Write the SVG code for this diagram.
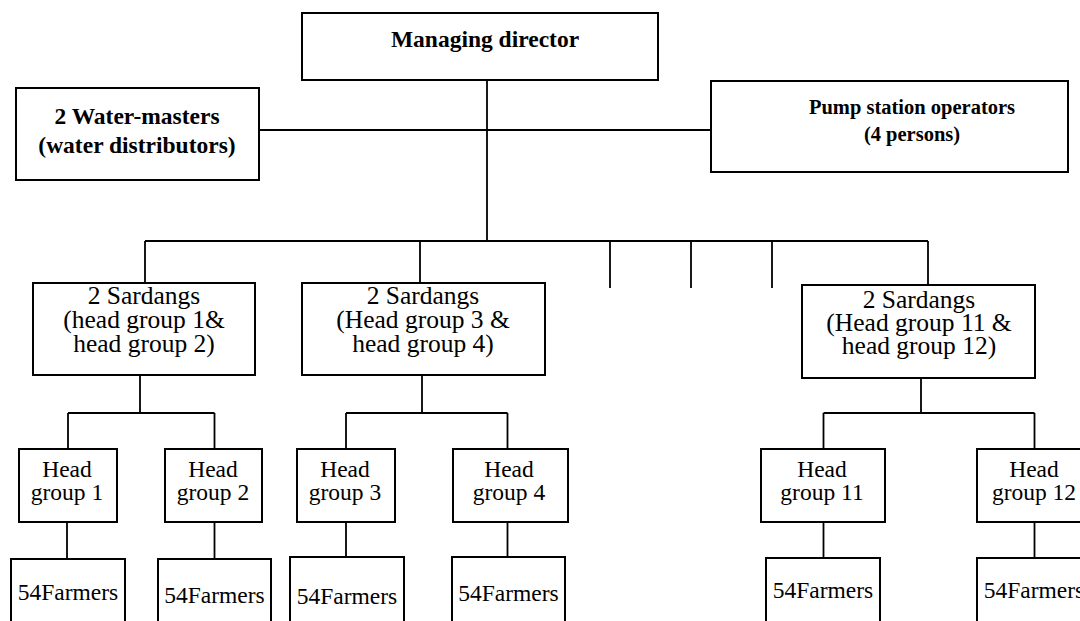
<svg xmlns="http://www.w3.org/2000/svg" width="1080" height="621" viewBox="0 0 1080 621">
<style>
.box{fill:#fff;stroke:#000;stroke-width:2}
.ln{fill:none;stroke:#000;stroke-width:1.8}
.b{font-family:"Liberation Serif","Times New Roman",serif;font-weight:bold;font-size:23.5px;fill:#000;text-anchor:middle}
.bp{font-family:"Liberation Serif","Times New Roman",serif;font-weight:bold;font-size:20.5px;fill:#000;text-anchor:middle}
.s{font-family:"Liberation Serif","Times New Roman",serif;font-size:25.5px;fill:#000;text-anchor:middle}
.h{font-family:"Liberation Serif","Times New Roman",serif;font-size:23.5px;fill:#000;text-anchor:middle}
</style>
<rect width="1080" height="621" fill="#fff"/>
<g id="connectors">
<path class="ln" d="M487,80 V241 M259,130 H711 M145,241 H928 M145,241 V283 M420,241 V283 M610,241 V288 M691,241 V288 M772,241 V288 M928,241 V285"/>
<path class="ln" d="M140,375 V413 M68,413 H214.5 M68,413 V449 M214.5,413 V449 M67,522 V559 M214.5,522 V559"/>
<path class="ln" d="M422,375 V413 M346,413 H507.5 M346,413 V449 M507.5,413 V449 M346,522 V557 M507.5,522 V557"/>
<path class="ln" d="M921,378 V413 M823.5,413 H1034.5 M823.5,413 V449 M1034.5,413 V449 M823.5,522 V558 M1034.5,522 V558"/>
</g>
<g id="managing-director"><rect class="box" x="302" y="13" width="356" height="67"/><text class="b" x="485" y="47">Managing director</text></g>
<g id="water-masters"><rect class="box" x="16" y="88" width="243" height="92"/><text class="b" x="137" y="124">2 Water-masters</text><text class="b" x="137" y="153">(water distributors)</text></g>
<g id="pump-operators"><rect class="box" x="711" y="81" width="357" height="91"/><text class="bp" x="912" y="114">Pump station operators</text><text class="bp" x="912" y="141">(4 persons)</text></g>
<g id="sardangs-1-2"><rect class="box" x="33" y="283" width="222" height="92"/><text class="s" x="144" y="304">2 Sardangs</text><text class="s" x="144" y="328">(head group 1&amp;</text><text class="s" x="144" y="352">head group 2)</text></g>
<g id="sardangs-3-4"><rect class="box" x="302" y="283" width="243" height="92"/><text class="s" x="423" y="304">2 Sardangs</text><text class="s" x="423" y="328">(Head group 3 &amp;</text><text class="s" x="423" y="352">head group 4)</text></g>
<g id="sardangs-11-12"><rect class="box" x="802" y="285" width="233" height="93"/><text class="s" x="919" y="308">2 Sardangs</text><text class="s" x="919" y="331">(Head group 11 &amp;</text><text class="s" x="919" y="354">head group 12)</text></g>
<g id="head-group-1"><rect class="box" x="19" y="449" width="98" height="73"/><text class="h" x="67" y="477">Head</text><text class="h" x="67" y="500">group 1</text></g>
<g id="head-group-2"><rect class="box" x="165" y="449" width="97" height="73"/><text class="h" x="213" y="477">Head</text><text class="h" x="213" y="500">group 2</text></g>
<g id="head-group-3"><rect class="box" x="297" y="449" width="98" height="73"/><text class="h" x="345" y="477">Head</text><text class="h" x="345" y="500">group 3</text></g>
<g id="head-group-4"><rect class="box" x="453" y="449" width="115" height="73"/><text class="h" x="509" y="477">Head</text><text class="h" x="509" y="500">group 4</text></g>
<g id="head-group-11"><rect class="box" x="761" y="449" width="124" height="73"/><text class="h" x="822" y="477">Head</text><text class="h" x="822" y="500">group 11</text></g>
<g id="head-group-12"><rect class="box" x="977" y="449" width="114" height="73"/><text class="h" x="1034" y="477">Head</text><text class="h" x="1034" y="500">group 12</text></g>
<g id="farmers-1"><rect class="box" x="11" y="559" width="114" height="80"/><text class="h" x="68" y="600">54Farmers</text></g>
<g id="farmers-2"><rect class="box" x="158" y="559" width="113" height="80"/><text class="h" x="214.5" y="603">54Farmers</text></g>
<g id="farmers-3"><rect class="box" x="290" y="557" width="114" height="82"/><text class="h" x="347" y="604">54Farmers</text></g>
<g id="farmers-4"><rect class="box" x="452" y="557" width="113" height="82"/><text class="h" x="508.5" y="601">54Farmers</text></g>
<g id="farmers-11"><rect class="box" x="766" y="558" width="114" height="81"/><text class="h" x="823" y="598">54Farmers</text></g>
<g id="farmers-12"><rect class="box" x="977" y="558" width="114" height="81"/><text class="h" x="1034" y="598">54Farmers</text></g>
</svg>
